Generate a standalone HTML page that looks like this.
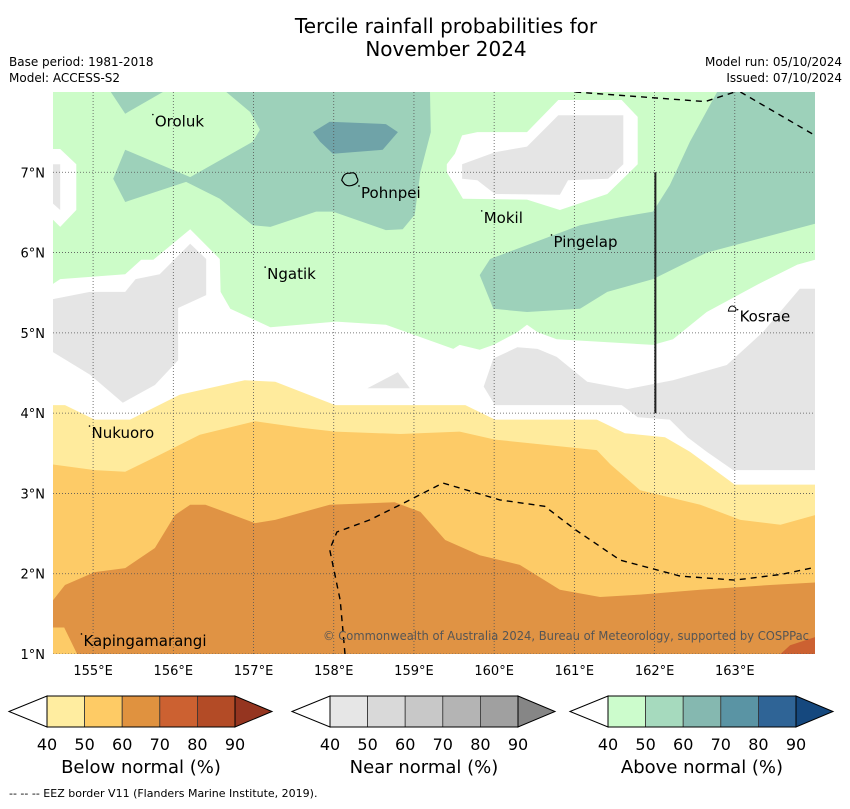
<!DOCTYPE html>
<html><head><meta charset="utf-8"><style>
body{margin:0;background:#fff;font-family:"Liberation Sans","DejaVu Sans",sans-serif}
svg text{font-family:"DejaVu Sans","Liberation Sans",sans-serif}
</style></head><body>
<svg id="c" width="850" height="804" viewBox="0 0 850 804" xmlns="http://www.w3.org/2000/svg">
<text x="446" y="33" font-size="20" text-anchor="middle">Tercile rainfall probabilities for</text>
<text x="446" y="56" font-size="20" text-anchor="middle">November 2024</text>
<text x="9" y="66" font-size="12">Base period: 1981-2018</text>
<text x="9" y="82" font-size="12">Model: ACCESS-S2</text>
<text x="842" y="66" font-size="12" text-anchor="end">Model run: 05/10/2024</text>
<text x="842" y="82" font-size="12" text-anchor="end">Issued: 07/10/2024</text>
<g id="map"></g>
<g id="legend"></g>
<text x="9" y="797" font-size="11">--  --  -- EEZ border V11 (Flanders Marine Institute, 2019).</text>
</svg>
<script>
const lonTicks=[155,156,157,158,159,160,161,162,163];
const latTicks=[1,2,3,4,5,6,7];
const medGreenA=[[155.22,8],[155.87,8],[155.40,7.73]];
const medGreenB=[[156.66,8],[159.20,8],[159.21,7.50],[159.08,7.0],[159.01,6.47],[158.86,6.29],[158.65,6.28],[157.99,6.51],[157.78,6.51],[157.21,6.32],[156.99,6.34],[156.58,6.67],[156.16,6.88],[155.40,6.63],[155.25,6.92],[155.40,7.28],[156.21,6.94],[156.99,7.38],[157.08,7.53],[156.96,7.75]];
const tealBlob=[[157.74,7.50],[157.95,7.63],[158.65,7.60],[158.80,7.50],[158.61,7.28],[157.99,7.23],[157.83,7.38]];
const medGreenC=[[162.78,8],[164,8],[164,6.36],[162.65,6.0],[161.98,5.67],[161.41,5.51],[161.07,5.30],[160.41,5.26],[159.99,5.30],[159.82,5.72],[159.95,5.92],[161.07,6.34],[161.57,6.44],[161.98,6.51],[162.19,6.84],[162.44,7.38]];
const whiteBig=[[154.5,5.61],[154.59,5.67],[155.40,5.73],[155.60,5.91],[155.75,5.91],[156.21,6.29],[156.58,5.92],[156.59,5.51],[156.71,5.30],[157.21,5.07],[158.03,5.14],[158.65,5.10],[159.49,4.80],[159.57,4.85],[159.82,4.79],[159.99,4.85],[160.29,5.01],[160.41,5.10],[160.54,5.01],[160.78,4.92],[161.98,4.85],[162.23,4.92],[162.65,5.26],[163.28,5.60],[163.78,5.85],[164,5.91],[164,1],[154.5,1]];
const whiteTL=[[154.5,7.29],[154.59,7.29],[154.79,7.10],[154.79,6.53],[154.59,6.32],[154.5,6.41]];
const grayTL=[[154.5,7.10],[154.59,7.10],[154.59,6.53],[154.5,6.61]];
const whiteMokil=[[159.41,7.10],[159.51,7.23],[159.60,7.46],[159.79,7.50],[160.41,7.50],[160.80,7.90],[161.59,7.90],[161.79,7.69],[161.79,7.10],[161.41,6.73],[160.82,6.53],[160.41,6.66],[159.61,6.67],[159.51,6.84],[159.41,7.0]];
const grayMokil=[[159.60,7.10],[160.01,7.25],[160.41,7.32],[160.80,7.71],[161.61,7.71],[161.61,7.10],[161.42,6.92],[160.92,6.90],[160.82,6.72],[160.01,6.73],[159.79,6.90],[159.60,6.92]];
const grayLeft=[[154.5,5.42],[154.96,5.51],[155.40,5.51],[155.53,5.67],[155.83,5.73],[156.21,6.11],[156.41,5.92],[156.41,5.47],[156.06,5.31],[156.06,4.66],[155.77,4.35],[155.37,4.13],[154.96,4.48],[154.5,4.76]];
const graySmall=[[158.42,4.31],[158.80,4.51],[158.95,4.31]];
const grayRight=[[159.87,4.33],[159.99,4.68],[160.29,4.82],[160.54,4.80],[160.78,4.70],[161.16,4.39],[161.66,4.30],[162.23,4.41],[162.90,4.60],[163.35,5.01],[163.81,5.55],[164,5.55],[164,3.29],[162.98,3.29],[162.65,3.52],[162.41,3.70],[162.19,3.92],[161.79,3.95],[161.59,4.10],[160.01,4.10]];
const below40=[[154.5,4.10],[154.65,4.10],[155.02,3.92],[155.46,3.92],[156.08,4.23],[156.89,4.41],[157.27,4.39],[158.02,4.10],[159.64,4.10],[160.01,3.92],[161.28,3.92],[161.63,3.75],[162.13,3.70],[162.44,3.52],[163.0,3.11],[164,3.11],[164,1],[154.5,1]];
const below50=[[154.5,3.36],[155.02,3.29],[155.40,3.27],[155.83,3.48],[156.33,3.73],[157.02,3.90],[157.58,3.82],[158.02,3.77],[158.83,3.74],[159.57,3.77],[160.01,3.67],[161.28,3.54],[161.45,3.36],[161.82,3.04],[162.57,2.86],[163.07,2.67],[163.57,2.61],[164,2.73],[164,1],[154.5,1]];
const below60=[[154.5,1.67],[154.65,1.86],[155.02,2.02],[155.40,2.07],[155.77,2.32],[156.02,2.73],[156.21,2.86],[156.40,2.86],[157.02,2.63],[157.27,2.67],[157.95,2.86],[158.76,2.89],[159.08,2.77],[159.39,2.42],[159.82,2.23],[160.32,2.11],[160.82,1.80],[161.32,1.71],[161.82,1.74],[162.57,1.80],[163.44,1.86],[164,1.89],[164,1],[154.80,1],[154.64,1.33],[154.5,1.33]];
const below70=[[163.57,1],[163.69,1.11],[164,1.21],[164,1]];
const eezSouth=[[158.14,1],[158.08,1.67],[157.95,2.30],[158.04,2.52],[158.45,2.67],[158.95,2.92],[159.36,3.13],[160.07,2.92],[160.63,2.84],[161.01,2.55],[161.57,2.17],[162.32,1.97],[163.0,1.92],[163.57,1.99],[164,2.08]];
const eezNorth1=[[161.01,8],[162.63,7.88],[163.0,8]];
const eezNorth2=[[163.07,8],[164,7.46]];
const islandNames=["Oroluk","Pohnpei","Mokil","Pingelap","Ngatik","Kosrae","Nukuoro","Kapingamarangi"];
const islandLon=[155.77,158.34,159.87,160.74,157.17,163.06,154.98,154.88];
const islandLat=[7.57,6.68,6.37,6.07,5.67,5.14,3.69,1.10];
const legendTicks=[40,50,60,70,80,90];
const belowColors=["#ffeda0","#fecb65","#e0923f","#cc6131","#b34b26","#953520"];
const nearColors=["#e6e6e6","#d9d9d9","#c8c8c8","#b4b4b4","#a0a0a0","#868686"];
const aboveColors=["#ccfccc","#a6dabe","#85b8b0","#5a94a4","#2f6496","#15487e"];

const NS="http://www.w3.org/2000/svg";
const X0=53,X1=815,Y0=92,Y1=654,LON0=154.5,LON1=164,LAT0=1,LAT1=8;
const xs=lon=>X0+(lon-LON0)/(LON1-LON0)*(X1-X0);
const ys=lat=>Y0+(LAT1-lat)/(LAT1-LAT0)*(Y1-Y0);
const map=document.getElementById('map');
function mk(tag,attrs,parent){const e=document.createElementNS(NS,tag);for(const k in attrs)e.setAttribute(k,attrs[k]);parent.appendChild(e);return e;}
const pts=a=>a.map(p=>xs(p[0]).toFixed(1)+","+ys(p[1]).toFixed(1)).join(" ");
const clip=mk('clipPath',{id:'mc'},map);mk('rect',{x:X0,y:Y0,width:X1-X0,height:Y1-Y0},clip);
const g=mk('g',{'clip-path':'url(#mc)'},map);
let bg=mk('rect',{x:X0,y:Y0,width:X1-X0,height:Y1-Y0,fill:'#ccfcc8'},g);


const layers=[[medGreenA,'#9dd1ba','above-50-region-a'],[medGreenB,'#9dd1ba','above-50-region-b'],[tealBlob,'#6fa3a8','above-60-region'],[medGreenC,'#9dd1ba','above-50-region-c'],[whiteBig,'#ffffff','no-signal-region'],[whiteTL,'#ffffff','no-signal-region-tl'],[grayTL,'#e5e5e5','near-40-region-tl'],[whiteMokil,'#ffffff','no-signal-region-mokil'],[grayMokil,'#e5e5e5','near-40-region-mokil'],[grayLeft,'#e5e5e5','near-40-region-left'],[graySmall,'#e5e5e5','near-40-region-small'],[grayRight,'#e5e5e5','near-40-region-right'],[below40,'#ffeb9d','below-40-region'],[below50,'#fdcb67','below-50-region'],[below60,'#e09344','below-60-region'],[below70,'#cc6131','below-70-region']];
for(const L of layers){
  const p=mk('polygon',{points:pts(L[0]),fill:L[1]},g);
  
  
}
for(const lon of lonTicks){
  const l=mk('line',{x1:xs(lon),x2:xs(lon),y1:Y0,y2:Y1,stroke:'#555','stroke-width':0.8,'stroke-dasharray':'1,2'},g);
  
  
  const t=mk('text',{x:xs(lon),y:Y1+21,'font-size':13,'text-anchor':'middle'},map);t.textContent=lon+"°E";
  
  
}
for(const lat of latTicks){
  const l=mk('line',{x1:X0,x2:X1,y1:ys(lat),y2:ys(lat),stroke:'#555','stroke-width':0.8,'stroke-dasharray':'1,2'},g);
  
  
  const t=mk('text',{x:X0-8,y:ys(lat)+5,'font-size':13,'text-anchor':'end'},map);t.textContent=lat+"°N";
  
  
}
for(const e of [eezSouth,eezNorth1,eezNorth2]){
  const l=mk('polyline',{points:pts(e),fill:'none',stroke:'#000','stroke-width':1.4,'stroke-dasharray':'6,5'},g);
  
  
}
const vl=mk('line',{x1:xs(162.01),x2:xs(162.01),y1:ys(7),y2:ys(4),stroke:'#222','stroke-width':2},g);


const ph=mk('path',{d:`M${xs(158.1)},${ys(6.9)} q2,-8 8,-7 q6,-2 7,4 q3,4 -2,7 q-6,3 -10,0 z`,fill:'none',stroke:'#000','stroke-width':1.2},g);


const ks=mk('path',{d:`M${xs(162.92)},${ys(5.27)} q1,-6 5,-5 q4,2 2,5 z`,fill:'#fff',stroke:'#000','stroke-width':1},g);


islandNames.forEach((n,i)=>{
  const d=mk('circle',{cx:xs(islandLon[i])-2,cy:ys(islandLat[i])-12,r:0.8,fill:'#000'},g);
  
  
  const t=mk('text',{x:xs(islandLon[i]),y:ys(islandLat[i]),'font-size':15},map);t.textContent=n;
  
  
});
const cp=mk('text',{x:323,y:640,'font-size':12,fill:'#555',textLength:486,lengthAdjust:'spacingAndGlyphs'},map);
cp.textContent="© Commonwealth of Australia 2024, Bureau of Meteorology, supported by COSPPac";



const leg=document.getElementById('legend');
function colorbar(x0,colors,title,name){
  const w=188,top=696,bot=727,mid=711.5,step=w/5;
  const gg=mk('g',{},leg);
  
  
  mk('polygon',{points:`${x0-38},${mid} ${x0},${top} ${x0},${bot}`,fill:'#fff',stroke:'#000','stroke-width':1},gg);
  for(let i=0;i<5;i++){mk('rect',{x:x0+i*step,y:top,width:step,height:bot-top,fill:colors[i],stroke:'#333','stroke-width':0.8},gg);}
  mk('polygon',{points:`${x0+w},${top} ${x0+w+37},${mid} ${x0+w},${bot}`,fill:colors[5],stroke:'#000','stroke-width':1},gg);
  mk('rect',{x:x0,y:top,width:w,height:bot-top,fill:'none',stroke:'#000','stroke-width':1},gg);
  legendTicks.forEach((v,i)=>{const t=mk('text',{x:x0+i*step,y:750,'font-size':16,'text-anchor':'middle'},gg);t.textContent=v;});
  const t=mk('text',{x:x0+w/2,y:773,'font-size':18,'text-anchor':'middle'},gg);t.textContent=title;
}
colorbar(47,belowColors,"Below normal (%)","below-normal-colorbar");
colorbar(330,nearColors,"Near normal (%)","near-normal-colorbar");
colorbar(608,aboveColors,"Above normal (%)","above-normal-colorbar");
</script>
</body></html>
